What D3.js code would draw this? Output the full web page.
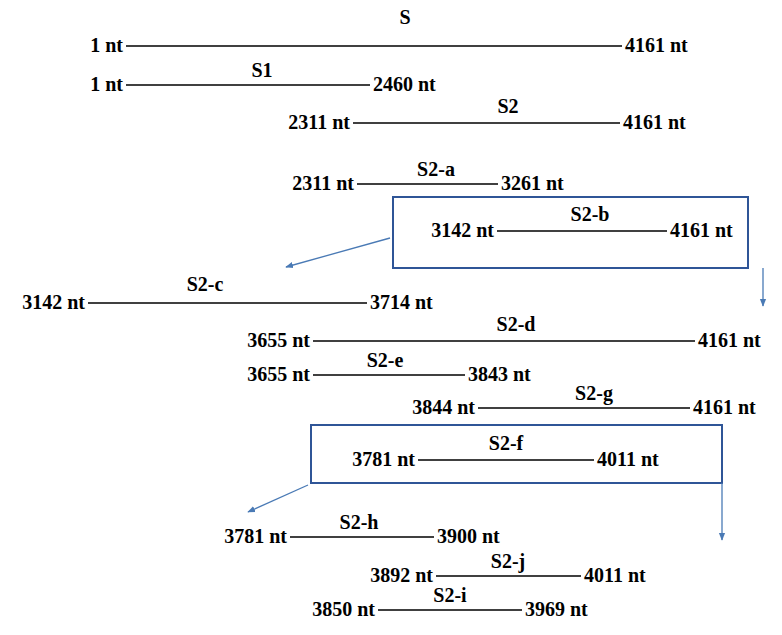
<!DOCTYPE html>
<html><head><meta charset="utf-8">
<script src="https://cdn.jsdelivr.net/npm/d3@7"></script>
<style>body{margin:0;background:#fff} svg text{font-family:"Liberation Serif","DejaVu Serif",serif;font-weight:bold;font-size:20px}</style>
</head><body>
<script>
// segment data
var names  = ["S","S1","S2","S2-a","S2-b","S2-c","S2-d","S2-e","S2-g","S2-f","S2-h","S2-j","S2-i"];
var starts = [1,1,2311,2311,3142,3142,3655,3655,3844,3781,3781,3892,3850];
var ends   = [4161,2460,4161,3261,4161,3714,4161,3843,4161,4011,3900,4011,3969];

// layout (diagram is not to scale)
var rowY = [46,85,123,184,231,303,341,375,408,460,537,576,610];
var lineX1 = [126,126,353,357,497,88,313,313,478,418,290,436,378];
var lineX2 = [622,370,620,498,667,367,695,465,690,594,434,581,522];
var nameX = [405,262,508,436,590,205,516,385,594,506,359,508,450];
var nameDy = [-22,-8,-10,-8,-10,-12,-10,-8,-8,-10,-8,-8,-8];
var boxes = [[393,197,748,268],[311,425,722,483]];
var arrows = [[390,238,286,267],[763,268,763,306],[308,485,248,512],[722,483,722,540]];

var rows = names.map(function (n, i) {
    return {name: n, start: starts[i], end: ends[i], y: rowY[i], x1: lineX1[i], x2: lineX2[i], nx: nameX[i], dy: nameDy[i]};
});

var svg = d3.select("body").append("svg").attr("width", 782).attr("height", 635);

svg.append("defs").append("marker").attr("id", "ah").attr("viewBox", "0 0 10 10")
    .attr("refX", 9).attr("refY", 5).attr("markerWidth", 6).attr("markerHeight", 6)
    .attr("orient", "auto").append("path").attr("d", "M0,1L10,5L0,9z").attr("fill", "#4a7ab5");

svg.selectAll("rect.box").data(boxes).enter().append("rect")
    .attr("x", function (d) { return d[0]; }).attr("y", function (d) { return d[1]; })
    .attr("width", function (d) { return d[2] - d[0]; }).attr("height", function (d) { return d[3] - d[1]; })
    .attr("fill", "none").attr("stroke", "#2f5597").attr("stroke-width", 2);

svg.selectAll("line.arr").data(arrows).enter().append("line")
    .attr("x1", function (d) { return d[0]; }).attr("y1", function (d) { return d[1]; })
    .attr("x2", function (d) { return d[2]; }).attr("y2", function (d) { return d[3]; })
    .attr("stroke", "#4a7ab5").attr("stroke-width", 1.3).attr("marker-end", "url(#ah)");

var g = svg.selectAll("g.seg").data(rows).enter().append("g");
g.append("line").attr("x1", function (d) { return d.x1; }).attr("x2", function (d) { return d.x2; })
    .attr("y1", function (d) { return d.y; }).attr("y2", function (d) { return d.y; })
    .attr("stroke", "#000").attr("stroke-width", 1.5);
g.append("text").attr("x", function (d) { return d.x1 - 3; }).attr("y", function (d) { return d.y + 6; })
    .attr("text-anchor", "end").text(function (d) { return d.start + " nt"; });
g.append("text").attr("x", function (d) { return d.x2 + 3; }).attr("y", function (d) { return d.y + 6; })
    .text(function (d) { return d.end + " nt"; });
g.append("text").attr("x", function (d) { return d.nx; }).attr("y", function (d) { return d.y + d.dy; })
    .attr("text-anchor", "middle").text(function (d) { return d.name; });
</script>
</body></html>
